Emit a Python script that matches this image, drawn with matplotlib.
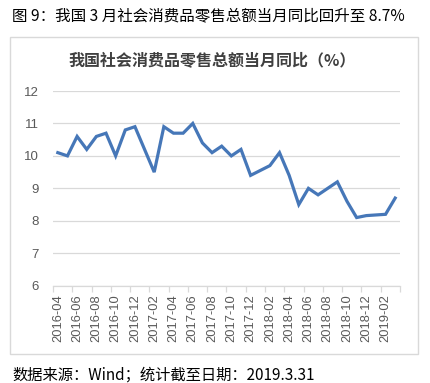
import numpy as np
import pandas as pd
import matplotlib
matplotlib.use('Agg')
import matplotlib.pyplot as plt
from matplotlib.patches import Rectangle

plt.rcParams['font.family'] = ['Noto Sans CJK SC', 'DejaVu Sans']

# monthly data (Jan values are merged into Feb, so no January points)
months = ['2016-04', '2016-05', '2016-06', '2016-07', '2016-08', '2016-09', '2016-10',
          '2016-11', '2016-12',
          '2017-02', '2017-03', '2017-04', '2017-05', '2017-06', '2017-07', '2017-08',
          '2017-09', '2017-10', '2017-11', '2017-12',
          '2018-02', '2018-03', '2018-04', '2018-05', '2018-06', '2018-07', '2018-08',
          '2018-09', '2018-10', '2018-11', '2018-12',
          '2019-02', '2019-03']
values = [10.1, 10.0, 10.6, 10.2, 10.6, 10.7, 10.0, 10.8, 10.9,
          9.5, 10.9, 10.7, 10.7, 11.0, 10.4, 10.1, 10.3, 10.0, 10.2, 9.4,
          9.7, 10.1, 9.4, 8.5, 9.0, 8.8, 9.0, 9.2, 8.6, 8.1, 8.16,
          8.2, 8.7]
tick_labels = ['2016-04', '2016-06', '2016-08', '2016-10', '2016-12', '2017-02',
               '2017-04', '2017-06', '2017-08', '2017-10', '2017-12', '2018-02',
               '2018-04', '2018-06', '2018-08', '2018-10', '2018-12', '2019-02']
yticks = [6, 7, 8, 9, 10, 11, 12]

start = pd.Period(months[0], freq='M')
x = np.array([(pd.Period(m, freq='M') - start).n for m in months])
end = (pd.Period('2019-03', freq='M') - start).n
label_pos = [(pd.Period(m, freq='M') - start).n for m in tick_labels]

W, H = 431, 383
fig = plt.figure(figsize=(W / 100, H / 100), dpi=100)

def fx(px):
    return px / W

def fy(py):
    return 1 - py / H

# chart frame
fig.patches.append(Rectangle((fx(10), fy(354)), fx(408), (354 - 37) / H,
                             transform=fig.transFigure, fill=False,
                             edgecolor='#d9d9d9', linewidth=1))

ax = fig.add_axes([fx(53), fy(285.7), fx(400 - 53), (285.7 - 91) / H])
ax.plot(x, values, color='#4677b8', linewidth=2.3, solid_joinstyle='miter')

ax.set_xlim(-0.5, end + 0.5)
ax.set_ylim(6, 12)
ax.set_yticks(yticks)
ax.yaxis.grid(True, color='#d9d9d9', linewidth=0.9)
ax.set_axisbelow(True)
ax.tick_params(axis='y', length=0, labelsize=9.5, labelcolor='#595959', pad=10)

ax.set_xticks(np.arange(-0.5, end + 1, 2))
ax.set_xticklabels([])
ax.set_xticks(label_pos, minor=True)
ax.set_xticklabels(tick_labels, minor=True, rotation=90, fontsize=9.3,
                   color='#595959', family=['Liberation Sans', 'DejaVu Sans'])
ax.tick_params(axis='x', which='major', length=4, color='#d9d9d9', width=0.9)
ax.tick_params(axis='x', which='minor', length=0, pad=6)
for t in ax.get_yticklabels():
    t.set_family(['Liberation Sans', 'DejaVu Sans'])

for s in ['top', 'right', 'left']:
    ax.spines[s].set_visible(False)
ax.spines['bottom'].set_color('#d9d9d9')
ax.spines['bottom'].set_linewidth(0.9)

fig.text(fx(12), fy(16), '图 9：我国 3 月社会消费品零售总额当月同比回升至 8.7%',
         fontsize=11.2, color='black', va='center', ha='left')
fig.text(fx(212), fy(61), '我国社会消费品零售总额当月同比（%）',
         fontsize=11.5, color='#404040', fontweight='bold', va='center', ha='center')
fig.text(fx(12), fy(380), '数据来源：Wind；统计截至日期：2019.3.31',
         fontsize=11, color='black', va='baseline', ha='left')

fig.savefig('out.png', dpi=100)
